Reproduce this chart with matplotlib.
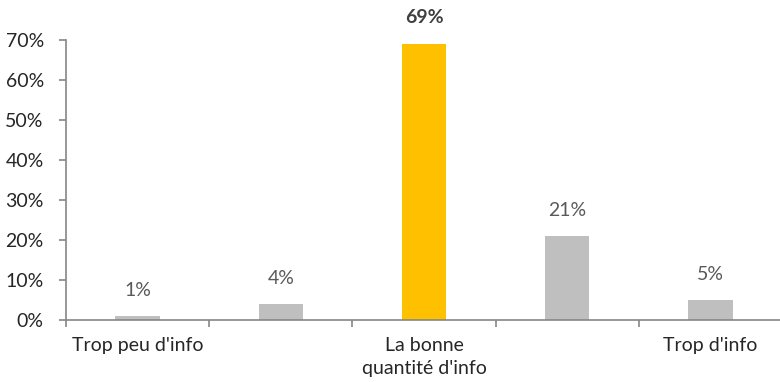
import numpy as np
import matplotlib.pyplot as plt

categories = ["Trop peu d'info", "", "La bonne\nquantité d'info", "", "Trop d'info"]
values = [0.01, 0.04, 0.69, 0.21, 0.05]
labels = ['1%', '4%', '69%', '21%', '5%']
highlight = 2

plt.rcParams['font.family'] = ['Lato', 'DejaVu Sans']
fs = 14

fig = plt.figure(figsize=(7.8, 3.82), dpi=100)
ax = fig.add_axes([66/780, 1-320/382, 716/780, 280/382])

x = np.arange(len(values)) + 0.5
colors = ['#FFC000' if i == highlight else '#BFBFBF' for i in range(len(values))]
ax.bar(x, values, width=0.31, color=colors)

for i, (xx, v, s) in enumerate(zip(x, values, labels)):
    if i == highlight:
        ax.annotate(s, (xx, v), xytext=(0, 19), textcoords='offset points',
                    ha='center', va='center', fontsize=fs, fontweight='bold', color='#404040')
    else:
        ax.annotate(s, (xx, v), xytext=(0, 18), textcoords='offset points',
                    ha='center', va='center', fontsize=fs, color='#595959')

ax.set_xlim(0, len(values))
ax.set_ylim(0, 0.7)
ax.set_yticks(np.arange(0, 0.71, 0.1))
ax.set_yticklabels(['%d%%' % round(t*100) for t in np.arange(0, 0.71, 0.1)])
ax.set_xticks(np.arange(len(values)+1))
ax.set_xticklabels([])
ax.set_xticks(x, minor=True)
ax.set_xticklabels(categories, minor=True, linespacing=1.45)

for sp in ['top', 'right']:
    ax.spines[sp].set_visible(False)
for sp in ['left', 'bottom']:
    ax.spines[sp].set_color('#868686')
    ax.spines[sp].set_linewidth(1.2)
ax.tick_params(axis='both', which='major', color='#868686', length=5, width=1.2,
               labelsize=fs, labelcolor='#262626')
ax.tick_params(axis='y', pad=11)
ax.tick_params(axis='x', which='minor', length=0, pad=12, labelsize=fs, labelcolor='#262626')
ax.spines['bottom'].set_clip_on(False)

fig.savefig('out.png', dpi=100)
